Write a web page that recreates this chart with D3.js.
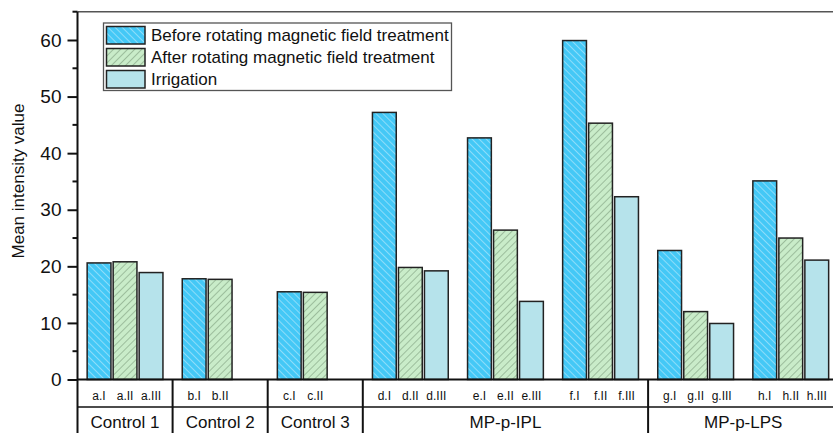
<!DOCTYPE html>
<html>
<head>
<meta charset="utf-8">
<script src="https://cdn.jsdelivr.net/npm/d3@7"></script>
<style>
  body { margin: 0; background: #fff; }
  text { font-family: "Liberation Sans", Arial, sans-serif; fill: #111; }
</style>
</head>
<body>
<div id="chart"></div>
<script>
// data
var groups = ["a", "b", "c", "d", "e", "f", "g", "h"];
var treatmentOf = ["Control 1", "Control 2", "Control 3", "MP-p-IPL", "MP-p-IPL", "MP-p-IPL", "MP-p-LPS", "MP-p-LPS"];
var subLabels = ["I", "II", "III"];
var beforeValues = [20.6, 17.8, 15.5, 47.2, 42.7, 59.9, 22.8, 35.1];
var afterValues = [20.8, 17.7, 15.4, 19.8, 26.4, 45.3, 12.0, 25.0];
var irrigationValues = [18.9, null, null, 19.2, 13.8, 32.3, 9.9, 21.1];
var seriesNames = ["Before rotating magnetic field treatment", "After rotating magnetic field treatment", "Irrigation"];
var yTicks = [0, 10, 20, 30, 40, 50, 60];

var svgWidth = 833;
var svgHeight = 433;

var svg = d3.select("#chart")
  .append("svg")
  .attr("width", svgWidth)
  .attr("height", svgHeight);

// hatch patterns
var defs = svg.append("defs");
var pBefore = defs.append("pattern")
  .attr("id", "hatchBefore")
  .attr("patternUnits", "userSpaceOnUse")
  .attr("width", 5).attr("height", 5)
  .attr("patternTransform", "rotate(-45)");
pBefore.append("rect").attr("width", 5).attr("height", 5).attr("fill", "#44c8f6");
pBefore.append("line").attr("x1", 0).attr("y1", 0).attr("x2", 0).attr("y2", 5)
  .attr("stroke", "#bfeafc").attr("stroke-width", 1.2);

var pAfter = defs.append("pattern")
  .attr("id", "hatchAfter")
  .attr("patternUnits", "userSpaceOnUse")
  .attr("width", 5).attr("height", 5)
  .attr("patternTransform", "rotate(45)");
pAfter.append("rect").attr("width", 5).attr("height", 5).attr("fill", "#c9ecc9");
pAfter.append("line").attr("x1", 0).attr("y1", 0).attr("x2", 0).attr("y2", 5)
  .attr("stroke", "#6f8f70").attr("stroke-width", 1);

var fills = ["url(#hatchBefore)", "url(#hatchAfter)", "#b6e3eb"];

// scales
var plotLeft = 77.5;
var plotRight = 838.3;
var plotTop = 11.7;
var plotBottom = 379.5;

var x0 = d3.scaleBand()
  .domain(groups)
  .range([plotLeft, plotRight]);

var x1 = d3.scaleBand()
  .domain(subLabels)
  .range([0, x0.bandwidth()])
  .paddingInner(0.085)
  .paddingOuter(0.371);

var y = d3.scaleLinear()
  .domain([0, 65])
  .range([plotBottom, plotTop]);

// flatten bars
var bars = [];
groups.forEach(function(g, i) {
  [beforeValues[i], afterValues[i], irrigationValues[i]].forEach(function(v, s) {
    if (v !== null) {
      bars.push({ group: g, sub: subLabels[s], series: s, value: v });
    }
  });
});

// top frame line
svg.append("line")
  .attr("x1", plotLeft).attr("x2", svgWidth)
  .attr("y1", plotTop).attr("y2", plotTop)
  .attr("stroke", "#555").attr("stroke-width", 1.5);

// bars
svg.selectAll("rect.bar")
  .data(bars)
  .enter()
  .append("rect")
  .attr("class", "bar")
  .attr("x", d => x0(d.group) + x1(d.sub))
  .attr("y", d => y(d.value))
  .attr("width", x1.bandwidth())
  .attr("height", d => y(0) - y(d.value))
  .attr("fill", d => fills[d.series])
  .attr("stroke", "#222")
  .attr("stroke-width", 1.5);

// y axis
var leftAxis = d3.axisLeft(y)
  .tickValues(yTicks)
  .tickSize(10)
  .tickPadding(6)
  .tickFormat(d3.format("d"));

var yAxis = svg.append("g")
  .attr("transform", `translate(${plotLeft}, 0)`)
  .call(leftAxis);
yAxis.select(".domain").remove();
yAxis.selectAll(".tick line").attr("stroke", "#111").attr("stroke-width", 2);
yAxis.selectAll(".tick text")
  .attr("font-size", "19px")
  .attr("font-family", "Liberation Sans, Arial, sans-serif")
  .attr("fill", "#111");

// minor ticks
svg.selectAll("line.minor")
  .data(yTicks.map(d => d + 5))
  .enter()
  .append("line")
  .attr("class", "minor")
  .attr("x1", plotLeft - 5).attr("x2", plotLeft)
  .attr("y1", d => y(d)).attr("y2", d => y(d))
  .attr("stroke", "#111").attr("stroke-width", 2);

// left axis line (continues down through the label table)
svg.append("line")
  .attr("x1", plotLeft).attr("x2", plotLeft)
  .attr("y1", plotTop).attr("y2", svgHeight)
  .attr("stroke", "#111").attr("stroke-width", 2);

// bottom axis line
svg.append("line")
  .attr("x1", plotLeft).attr("x2", svgWidth)
  .attr("y1", plotBottom).attr("y2", plotBottom)
  .attr("stroke", "#111").attr("stroke-width", 2.2);

// table row line
var rowLineY = 407;
svg.append("line")
  .attr("x1", plotLeft).attr("x2", svgWidth)
  .attr("y1", rowLineY).attr("y2", rowLineY)
  .attr("stroke", "#111").attr("stroke-width", 1.5);

// separators between treatments
var separators = [];
for (var i = 1; i < groups.length; i++) {
  if (treatmentOf[i] !== treatmentOf[i - 1]) separators.push(groups[i]);
}
svg.selectAll("line.sep")
  .data(separators)
  .enter()
  .append("line")
  .attr("class", "sep")
  .attr("x1", d => x0(d)).attr("x2", d => x0(d))
  .attr("y1", plotBottom).attr("y2", svgHeight)
  .attr("stroke", "#111").attr("stroke-width", 2);

// sub labels (a.I, a.II ...)
svg.selectAll("text.sub")
  .data(bars)
  .enter()
  .append("text")
  .attr("class", "sub")
  .attr("x", d => x0(d.group) + x1(d.sub) + x1.bandwidth() / 2)
  .attr("y", 399.5)
  .attr("text-anchor", "middle")
  .attr("font-size", "12px")
  .text(d => d.group + "." + d.sub);

// treatment labels
var treatments = Array.from(new Set(treatmentOf));
svg.selectAll("text.treat")
  .data(treatments)
  .enter()
  .append("text")
  .attr("class", "treat")
  .attr("x", function(t) {
    var cs = groups.filter((g, i) => treatmentOf[i] === t).map(g => x0(g) + x0.bandwidth() / 2);
    return d3.mean(cs);
  })
  .attr("y", 428)
  .attr("text-anchor", "middle")
  .attr("font-size", "17px")
  .text(d => d);

// y axis title
svg.append("text")
  .attr("transform", "translate(24, 181) rotate(-90)")
  .attr("text-anchor", "middle")
  .attr("font-size", "17px")
  .text("Mean intensity value");

// legend
var legend = svg.append("g");
legend.append("rect")
  .attr("x", 103.5).attr("y", 23)
  .attr("width", 348).attr("height", 67.5)
  .attr("fill", "#fff")
  .attr("stroke", "#555").attr("stroke-width", 1.3);

var items = legend.selectAll("g.item")
  .data(seriesNames)
  .enter()
  .append("g")
  .attr("class", "item")
  .attr("transform", (d, i) => `translate(106.5, ${26.5 + i * 22})`);

items.append("rect")
  .attr("width", 38.5).attr("height", 17.5)
  .attr("fill", (d, i) => fills[i])
  .attr("stroke", "#222").attr("stroke-width", 1.5);

items.append("text")
  .attr("x", 44.5)
  .attr("y", 9)
  .attr("dy", "0.35em")
  .attr("font-size", "17px")
  .text(d => d);
</script>
</body>
</html>
